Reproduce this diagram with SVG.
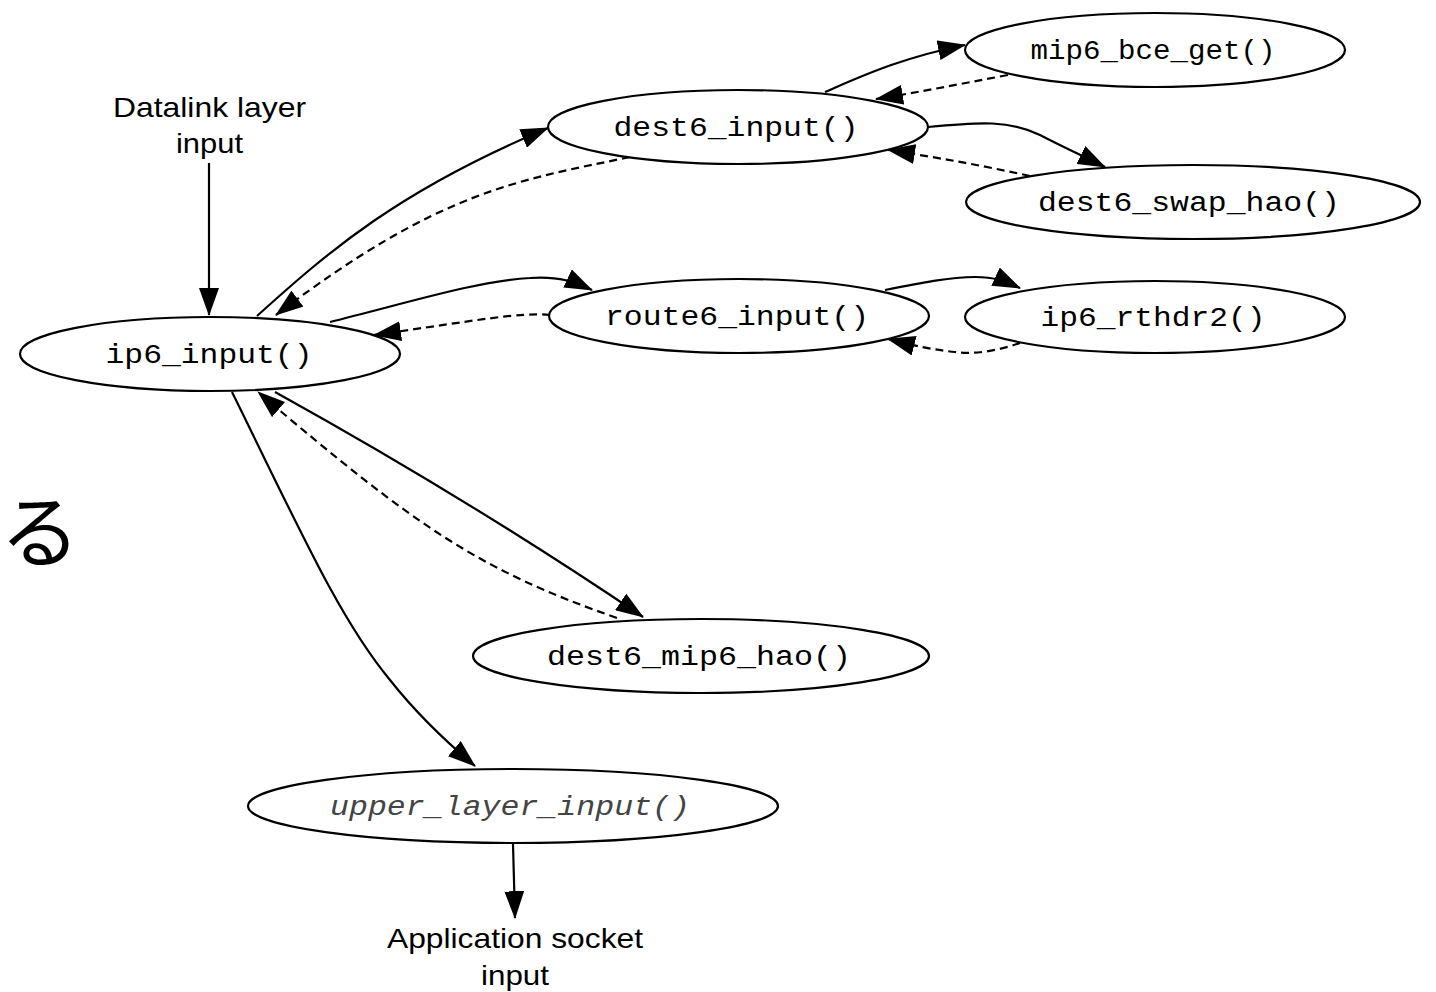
<svg xmlns="http://www.w3.org/2000/svg" width="1436" height="992" viewBox="0 0 1436 992">
<defs>
<marker id="ah" markerUnits="userSpaceOnUse" markerWidth="28" markerHeight="20" viewBox="0 0 28 20" refX="27" refY="10" orient="auto">
<path d="M0,0 L28,10 L0,20 z" fill="#000"/>
</marker>
<style>
.n ellipse{fill:#fff;stroke:#000;stroke-width:2.2}
.n text{font-family:"Liberation Mono","Courier New",monospace;font-size:27px;fill:#000;text-anchor:middle}
.lbl{font-family:"Liberation Sans",Arial,sans-serif;font-size:28px;fill:#000;text-anchor:middle}
.e{fill:none;stroke:#000;stroke-width:2.2;marker-end:url(#ah)}
.d{stroke-dasharray:8,5}
</style>
</defs>
<rect width="1436" height="992" fill="#fff"/>
<g id="connectors">
<path class="e" d="M209,163 L209,315"/>
<path class="e" d="M257,316 C330,250 400,190 548,128"/>
<path class="e d" d="M630,157 C520,180 440,190 276,315"/>
<path class="e" d="M330,322 C400,305 480,280 530,278 C560,276 575,282 592,290"/>
<path class="e d" d="M550,315 C520,312 480,320 374,335"/>
<path class="e" d="M275,392 Q470,500 643,617"/>
<path class="e d" d="M617,618 C480,570 420,530 258,392"/>
<path class="e" d="M232,392 C300,530 340,620 390,680 C420,718 450,745 475,766"/>
<path class="e" d="M513,844 L515,918"/>
<path class="e" d="M825,92 C860,77 900,58 965,45"/>
<path class="e d" d="M1008,75 C960,84 920,92 876,99"/>
<path class="e" d="M928,127 C980,122 1010,120 1040,135 C1065,148 1085,157 1105,167"/>
<path class="e d" d="M1030,176 C980,165 940,158 888,150"/>
<path class="e" d="M885,290 C920,283 950,277 975,277 C995,277 1005,281 1020,288"/>
<path class="e d" d="M1020,343 C1000,350 975,355 955,352 C935,350 915,346 888,339"/>
</g>
<g id="datalink"><text class="lbl" x="209.5" y="117" textLength="193" lengthAdjust="spacingAndGlyphs">Datalink layer</text><text class="lbl" x="209.5" y="153" textLength="67" lengthAdjust="spacingAndGlyphs">input</text></g>
<g id="app"><text class="lbl" x="515" y="948" textLength="256" lengthAdjust="spacingAndGlyphs">Application socket</text><text class="lbl" x="515" y="985" textLength="68" lengthAdjust="spacingAndGlyphs">input</text></g>
<g id="ip6_input" class="n"><ellipse cx="210" cy="354" rx="190" ry="37"/><text x="209" y="363" textLength="207" lengthAdjust="spacingAndGlyphs">ip6_input()</text></g>
<g id="dest6_input" class="n"><ellipse cx="738" cy="127" rx="190" ry="37"/><text x="736" y="136" textLength="245" lengthAdjust="spacingAndGlyphs">dest6_input()</text></g>
<g id="mip6_bce_get" class="n"><ellipse cx="1155" cy="50" rx="190" ry="37"/><text x="1153" y="59" textLength="245" lengthAdjust="spacingAndGlyphs">mip6_bce_get()</text></g>
<g id="dest6_swap_hao" class="n"><ellipse cx="1193" cy="202" rx="227" ry="37"/><text x="1189" y="211" textLength="302" lengthAdjust="spacingAndGlyphs">dest6_swap_hao()</text></g>
<g id="route6_input" class="n"><ellipse cx="739" cy="316" rx="190" ry="37"/><text x="737" y="325" textLength="264" lengthAdjust="spacingAndGlyphs">route6_input()</text></g>
<g id="ip6_rthdr2" class="n"><ellipse cx="1155" cy="317" rx="190" ry="36"/><text x="1153" y="326" textLength="225" lengthAdjust="spacingAndGlyphs">ip6_rthdr2()</text></g>
<g id="dest6_mip6_hao" class="n"><ellipse cx="701" cy="656" rx="228" ry="37"/><text x="699" y="665" textLength="304" lengthAdjust="spacingAndGlyphs">dest6_mip6_hao()</text></g>
<g id="upper_layer_input" class="n"><ellipse cx="513" cy="806" rx="265" ry="37"/><text x="510" y="815" textLength="360" lengthAdjust="spacingAndGlyphs" style="font-style:italic;fill:#444">upper_layer_input()</text></g>
<text x="0" y="561" style="font-family:'Noto Sans CJK JP',sans-serif;font-size:80px;fill:#000">る</text>
</svg>
